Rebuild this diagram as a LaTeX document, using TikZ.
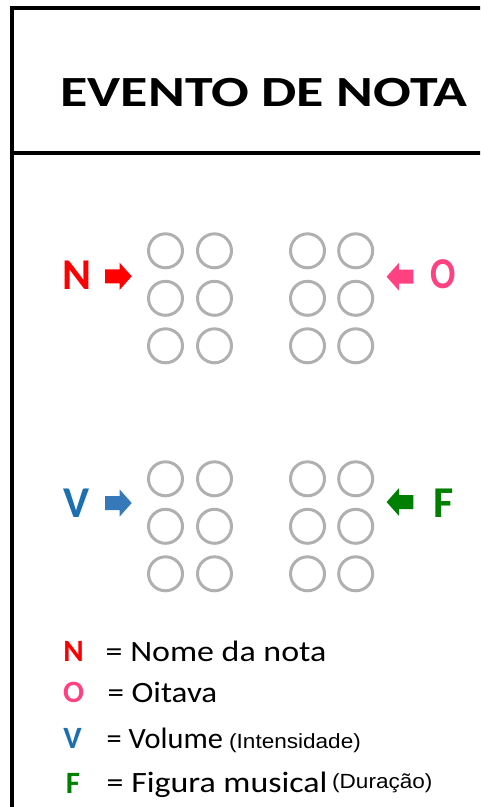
\documentclass[tikz,border=0pt]{standalone}
\usepackage{fontspec}
\setmainfont{Carlito}
\newfontfamily\titlefont[FakeStretch=1.3]{Carlito}
\newfontfamily\legfont[FakeStretch=1.12]{Carlito}
\newfontfamily\legfontA[FakeStretch=1.15]{Carlito}
\newfontfamily\legfontC[FakeStretch=1.03]{Carlito}
\newfontfamily\smallfont[FakeStretch=1.1]{Liberation Sans}
\newfontfamily\ofont[FakeStretch=0.85]{Carlito}
\definecolor{nred}{HTML}{FF0000}
\definecolor{opink}{HTML}{FF4081}
\definecolor{vblue}{HTML}{1A70B0}
\definecolor{varrow}{HTML}{3579BA}
\definecolor{fgreen}{HTML}{008000}
\definecolor{ringgray}{HTML}{B0B0B0}
\tikzset{
  frameline/.style={line width=4pt, line join=miter},
  ring/.style={circle, draw=ringgray, line width=3pt, minimum size=34pt, inner sep=0pt},
  bigletter/.style={font=\fontsize{44}{50}\selectfont\bfseries, inner sep=0pt, anchor=base},
  leglet/.style={font=\fontsize{31}{36}\selectfont\bfseries, inner sep=0pt, anchor=base},
  legtxt/.style={font=\legfont\fontsize{29.5}{34}\selectfont, inner sep=0pt, anchor=base west},
  smalltxt/.style={font=\smallfont\fontsize{20.5}{24}\selectfont, inner sep=0pt, anchor=base west},
  rarrow/.pic={\fill[pic actions] (0,-7) -- (14.5,-7) -- (14.5,-13.7) -- (26.7,0) -- (14.5,13.7) -- (14.5,7) -- (0,7) -- cycle;},
  larrow/.pic={\fill[pic actions] (0,-7) -- (-14.5,-7) -- (-14.5,-13.7) -- (-26.7,0) -- (-14.5,13.7) -- (-14.5,7) -- (0,7) -- cycle;}
}
\begin{document}
\begin{tikzpicture}[x=1pt,y=-1pt]
\useasboundingbox (0,0) rectangle (480,807);
\begin{scope}
\clip (0,0) rectangle (480,807);
\draw[frameline] (485,8) -- (11.5,8) -- (11.5,812);
\draw[frameline] (11.5,153) -- (485,153);
\end{scope}
\node[inner sep=0pt, anchor=base, font=\titlefont\fontsize{43}{50}\selectfont\bfseries] (title) at (264,106.7) {EVENTO DE NOTA};
% cells
\foreach \g/\xa/\xb/\ya in {n/165.5/214.5/250.8, o/307.5/355.7/250.8, v/165.5/214.5/478.8, f/307.5/355.7/478.8}{
  \foreach \r/\dy in {1/0, 2/47.5, 3/95}{
    \node[ring] (\g a\r) at (\xa,\ya+\dy) {};
    \node[ring] (\g b\r) at (\xb,\ya+\dy) {};
  }
}
% letters and arrows
\node[bigletter, text=nred] (N) at (76.5,289.3) {N};
\coordinate (aN) at (105,276.3);
\pic[fill=nred] at (aN) {rarrow};
\node[bigletter, text=opink, font=\ofont\fontsize{44}{50}\selectfont\bfseries] (O) at (443.4,288.3) {O};
\coordinate (aO) at (413.3,276.7);
\pic[fill=opink] at (aO) {larrow};
\node[bigletter, text=vblue] (V) at (77,517) {V};
\coordinate (aV) at (105,503);
\pic[fill=varrow] at (aV) {rarrow};
\node[bigletter, text=fgreen] (F) at (444,517) {F};
\coordinate (aF) at (413.3,502);
\pic[fill=fgreen] at (aF) {larrow};
% legend
\node[leglet, text=nred] (lN) at (73.5,661.7) {N};
\node[legtxt, font=\legfontA\fontsize{29.5}{34}\selectfont] (tN) at (105.5,661) {= Nome da nota};
\node[leglet, text=opink] (lO) at (73.5,702.7) {O};
\node[legtxt] (tO) at (107.5,702.7) {= Oitava};
\node[leglet, text=vblue] (lV) at (72.5,748.3) {V};
\node[legtxt, font=\legfontC\fontsize{29.5}{34}\selectfont] (tV) at (106.5,748.3) {= Volume};
\node[smalltxt] (sV) at (229,748.3) {(Intensidade)};
\node[leglet, text=fgreen] (lF) at (73,793) {F};
\node[legtxt, font=\legfontA\fontsize{29.5}{34}\selectfont] (tF) at (106.5,792.7) {= Figura musical};
\node[smalltxt] (sF) at (332,788.5) {(Duração)};
\end{tikzpicture}
\end{document}
